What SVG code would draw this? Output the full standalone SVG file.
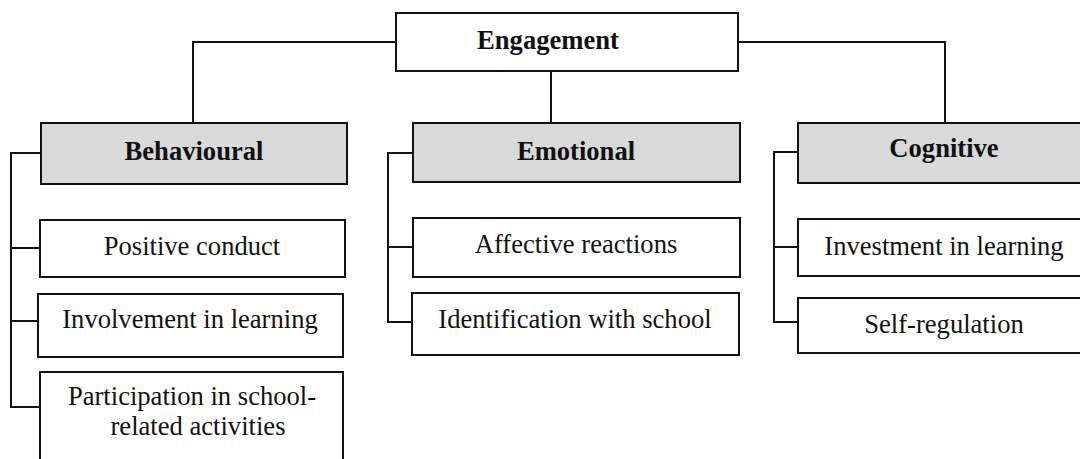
<svg xmlns="http://www.w3.org/2000/svg" width="1080" height="459" viewBox="0 0 1080 459">
  <style>
    .box { fill: #ffffff; stroke: #111111; stroke-width: 2; }
    .head { fill: #d9d9d9; stroke: #111111; stroke-width: 2; }
    .lbl { font-family: "Liberation Serif", "Times New Roman", serif; font-size: 26.6px; fill: #111111; text-anchor: middle; }
    .bold { font-weight: bold; }
    .wire { fill: none; stroke: #111111; stroke-width: 2; }
  </style>
  <rect width="1080" height="459" fill="#ffffff"/>

  <!-- connectors -->
  <g id="connectors" class="wire">
    <!-- root to dimensions -->
    <polyline points="396,42 193,42 193,123"/>
    <line x1="551" y1="71" x2="551" y2="123"/>
    <polyline points="738,42 945,42 945,123"/>
    <!-- behavioural bracket -->
    <polyline points="41,153 11,153 11,407 40,407"/>
    <line x1="11" y1="248" x2="40" y2="248"/>
    <line x1="11" y1="321" x2="38" y2="321"/>
    <!-- emotional bracket -->
    <polyline points="413,153 388,153 388,322 412,322"/>
    <line x1="388" y1="247" x2="413" y2="247"/>
    <!-- cognitive bracket -->
    <polyline points="798,152 774,152 774,322 798,322"/>
    <line x1="774" y1="247" x2="798" y2="247"/>
  </g>

  <g id="engagement">
    <rect class="box" x="396" y="13" width="342" height="58"/>
    <text class="lbl bold" x="548" y="49">Engagement</text>
  </g>

  <g id="behavioural">
    <rect class="head" x="41" y="123" width="306" height="61"/>
    <text class="lbl bold" x="194" y="160">Behavioural</text>
  </g>
  <g id="positive-conduct">
    <rect class="box" x="40" y="220" width="305" height="57"/>
    <text class="lbl" x="192" y="255">Positive conduct</text>
  </g>
  <g id="involvement">
    <rect class="box" x="38" y="294" width="305" height="63"/>
    <text class="lbl" x="190" y="328">Involvement in learning</text>
  </g>
  <g id="participation">
    <rect class="box" x="40" y="372" width="303" height="100"/>
    <text class="lbl" x="192" y="405">Participation in school-</text>
    <text class="lbl" x="198" y="435">related activities</text>
  </g>

  <g id="emotional">
    <rect class="head" x="413" y="123" width="327" height="59"/>
    <text class="lbl bold" x="576" y="160">Emotional</text>
  </g>
  <g id="affective">
    <rect class="box" x="413" y="218" width="327" height="59"/>
    <text class="lbl" x="576" y="253">Affective reactions</text>
  </g>
  <g id="identification">
    <rect class="box" x="412" y="293" width="327" height="62"/>
    <text class="lbl" x="575" y="328">Identification with school</text>
  </g>

  <g id="cognitive">
    <rect class="head" x="798" y="123" width="300" height="60"/>
    <text class="lbl bold" x="944" y="157">Cognitive</text>
  </g>
  <g id="investment">
    <rect class="box" x="798" y="219" width="300" height="57"/>
    <text class="lbl" x="944" y="255">Investment in learning</text>
  </g>
  <g id="self-regulation">
    <rect class="box" x="798" y="298" width="300" height="55"/>
    <text class="lbl" x="944" y="333">Self-regulation</text>
  </g>
</svg>
